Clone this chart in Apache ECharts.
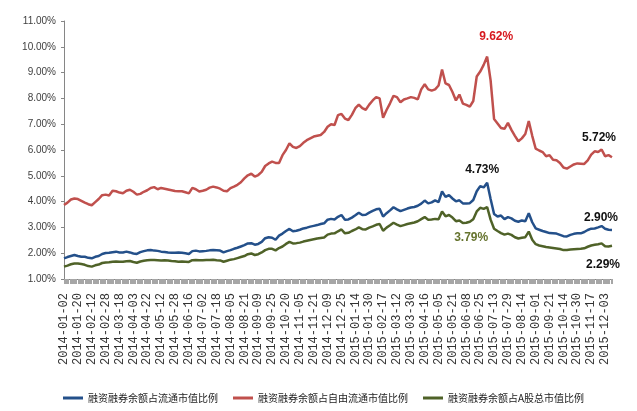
<!DOCTYPE html>
<html>
<head>
<meta charset="utf-8">
<title>融资融券余额占市值比例</title>
<script src="https://cdn.jsdelivr.net/npm/echarts@6.0.0/dist/echarts.min.js"></script>
<style>
  html, body { margin: 0; padding: 0; background: #fff; }
  #main { width: 637px; height: 411px; }
</style>
</head>
<body>
<div id="main"></div>
<script>
// 横轴标签, 每12个交易日一个; 数据每3个交易日取一点
var tickLabels = ['2014-01-02','2014-01-20','2014-02-12','2014-02-28','2014-03-18','2014-04-03','2014-04-22','2014-05-12','2014-05-28','2014-06-16',
	'2014-07-02','2014-07-18','2014-08-05','2014-08-21','2014-09-09','2014-09-25','2014-10-20','2014-11-05','2014-11-21','2014-12-09',
	'2014-12-25','2015-01-14','2015-01-30','2015-02-17','2015-03-12','2015-03-30','2015-04-16','2015-05-05','2015-05-21','2015-06-08',
	'2015-06-25','2015-07-13','2015-07-29','2015-08-14','2015-09-01','2015-09-21','2015-10-14','2015-10-30','2015-11-17','2015-12-03'];

var seriesNames = ['融资融券余额占流通市值比例', '融资融券余额占自由流通市值比例', '融资融券余额占A股总市值比例'];

// 融资融券余额占流通市值比例 (%)
var floatRatio = [1.80,1.85,1.89,1.93,1.89,1.86,1.86,1.82,1.80,1.86,
	1.89,1.97,2.01,2.02,2.04,2.06,2.03,2.03,2.06,2.03,
	1.99,1.97,2.04,2.08,2.11,2.12,2.10,2.09,2.06,2.05,
	2.03,2.02,2.02,2.03,2.02,2.00,1.97,2.08,2.10,2.07,
	2.08,2.09,2.11,2.12,2.11,2.10,2.03,2.08,2.12,2.17,
	2.21,2.26,2.31,2.38,2.39,2.33,2.36,2.44,2.58,2.62,
	2.60,2.52,2.68,2.76,2.86,2.94,2.85,2.87,2.91,2.96,
	2.99,3.03,3.06,3.09,3.13,3.16,3.30,3.33,3.31,3.41,
	3.48,3.30,3.31,3.38,3.47,3.57,3.48,3.49,3.57,3.64,
	3.70,3.72,3.42,3.55,3.66,3.78,3.70,3.63,3.68,3.73,
	3.77,3.79,3.84,3.92,4.04,3.93,3.97,4.05,3.98,4.40,
	4.18,4.25,4.12,4.01,4.05,3.93,3.93,3.94,4.06,4.40,
	4.60,4.55,4.73,4.10,3.52,3.42,3.46,3.32,3.40,3.35,
	3.26,3.22,3.27,3.24,3.55,3.20,2.96,2.91,2.86,2.82,
	2.78,2.77,2.76,2.71,2.66,2.65,2.71,2.75,2.77,2.77,
	2.82,2.90,2.95,2.96,3.00,3.05,2.95,2.91,2.90];

// 融资融券余额占自由流通市值比例 (%)
var freeFloatRatio = [3.87,3.96,4.08,4.12,4.10,4.03,3.96,3.90,3.86,3.98,
	4.10,4.25,4.27,4.24,4.42,4.40,4.35,4.32,4.42,4.46,
	4.38,4.27,4.30,4.38,4.44,4.53,4.56,4.48,4.53,4.50,
	4.47,4.44,4.41,4.40,4.40,4.36,4.32,4.53,4.48,4.39,
	4.42,4.46,4.54,4.58,4.55,4.50,4.42,4.40,4.52,4.58,
	4.65,4.75,4.90,5.02,5.08,4.97,5.03,5.15,5.38,5.48,
	5.55,5.50,5.50,5.80,6.00,6.26,6.12,6.08,6.15,6.28,
	6.38,6.45,6.52,6.55,6.58,6.70,6.90,7.00,6.97,7.35,
	7.40,7.22,7.16,7.36,7.62,7.76,7.62,7.56,7.76,7.92,
	8.05,8.00,7.25,7.55,7.81,8.10,8.05,7.85,7.96,8.00,
	8.05,8.02,7.96,8.35,8.55,8.35,8.30,8.35,8.50,9.12,
	8.58,8.52,8.25,7.92,8.15,7.80,7.75,7.68,7.90,8.85,
	9.04,9.30,9.62,8.70,7.20,7.03,6.85,6.82,7.05,6.78,
	6.55,6.34,6.45,6.62,7.12,6.55,6.05,5.98,5.92,5.76,
	5.80,5.62,5.60,5.50,5.32,5.28,5.36,5.44,5.48,5.47,
	5.46,5.60,5.82,5.95,5.92,6.02,5.76,5.80,5.72];

// 融资融券余额占A股总市值比例 (%)
var totalRatio = [1.48,1.52,1.57,1.60,1.60,1.58,1.55,1.50,1.48,1.53,
	1.56,1.62,1.64,1.65,1.67,1.68,1.67,1.67,1.69,1.70,
	1.66,1.63,1.68,1.71,1.73,1.74,1.74,1.73,1.72,1.73,
	1.72,1.70,1.69,1.67,1.68,1.67,1.66,1.73,1.74,1.73,
	1.73,1.74,1.74,1.75,1.73,1.72,1.67,1.71,1.75,1.77,
	1.81,1.85,1.89,1.96,1.99,1.93,1.96,2.03,2.12,2.17,
	2.17,2.11,2.20,2.26,2.36,2.44,2.38,2.39,2.41,2.45,
	2.48,2.51,2.54,2.57,2.59,2.61,2.72,2.76,2.77,2.85,
	2.92,2.77,2.79,2.86,2.92,3.00,2.93,2.92,2.99,3.04,
	3.10,3.13,2.87,2.99,3.08,3.18,3.11,3.05,3.09,3.13,
	3.16,3.19,3.24,3.32,3.40,3.30,3.31,3.33,3.32,3.62,
	3.43,3.48,3.38,3.24,3.27,3.17,3.18,3.22,3.32,3.62,
	3.76,3.72,3.79,3.30,2.95,2.86,2.78,2.72,2.76,2.71,
	2.62,2.57,2.60,2.62,2.84,2.52,2.35,2.30,2.27,2.24,
	2.22,2.20,2.18,2.16,2.12,2.12,2.14,2.15,2.16,2.17,
	2.19,2.25,2.30,2.33,2.35,2.38,2.27,2.26,2.29];

var colors = ['#24508a', '#c0504d', '#4f6228'];

// 类目: 每个标签后面补3个空位 (最后补2个)
var categories = [];
tickLabels.forEach(function (d, i) {
	categories.push(d);
	var pad = i < tickLabels.length - 1 ? 3 : 2;
	for (var j = 0; j < pad; j++) {
		categories.push('');
	}
});

var sans = "'Liberation Sans', Arial, sans-serif";

function pct(v) {
	return v.toFixed(2) + '%';
}

// 峰值和期末值的标注
function marks(data, peakColor, peakOffset, endColor, endOffset) {
	var peak = Math.max.apply(null, data);
	var pi = data.indexOf(peak);
	var li = data.length - 1;
	var items = [{
		coord: [pi, peak], value: peak,
		label: { color: peakColor, offset: peakOffset }
	}, {
		coord: [li, data[li]], value: data[li],
		label: { color: endColor, offset: endOffset }
	}];
	return {
		symbol: 'circle',
		symbolSize: 1,
		itemStyle: { color: 'transparent' },
		label: {
			show: true,
			position: 'inside',
			fontFamily: sans,
			fontWeight: 'bold',
			fontSize: 12,
			formatter: function (p) { return pct(p.value); }
		},
		data: items
	};
}

function makeLine(name, data, color, mp) {
	return {
		name: name,
		type: 'line',
		data: data,
		symbol: 'none',
		lineStyle: { width: 2.5, color: color },
		itemStyle: { color: color },
		markPoint: mp,
		animation: false
	};
}

var chart = echarts.init(document.getElementById('main'));
var option = {
	backgroundColor: '#fff',
	animation: false,
	grid: { left: 64, right: 25, top: 21, bottom: 132 },
	legend: {
		left: 58,
		top: 388,
		icon: 'rect',
		itemWidth: 20,
		itemHeight: 3,
		itemGap: 15,
		textStyle: { fontFamily: "'Noto Sans CJK SC', sans-serif", fontSize: 10, color: '#222' },
		data: seriesNames
	},
	xAxis: [{
		type: 'category',
		boundaryGap: false,
		data: categories,
		axisLine: { lineStyle: { color: '#868686', width: 1 } },
		axisTick: { show: false },
		axisLabel: {
			interval: 3,
			rotate: 90,
			margin: 14,
			fontFamily: "'Liberation Mono', 'DejaVu Sans Mono', monospace",
			fontSize: 12,
			color: '#333'
		},
		splitLine: { show: false }
	}, {
		// 每个交易日一个小刻度
		type: 'value',
		position: 'bottom',
		min: 0,
		max: (categories.length - 1) * 3,
		interval: 1,
		axisLine: { show: false },
		axisLabel: { show: false },
		axisTick: { length: 5, lineStyle: { color: '#a6a6a6', width: 1 } },
		splitLine: { show: false }
	}],
	yAxis: {
		type: 'value',
		min: 1,
		max: 11,
		interval: 1,
		axisLine: { show: true, lineStyle: { color: '#868686', width: 1 } },
		axisTick: { show: true, length: 3, lineStyle: { color: '#868686' } },
		axisLabel: {
			margin: 8,
			fontFamily: sans,
			fontSize: 10,
			color: '#404040',
			formatter: function (v) { return pct(v); }
		},
		splitLine: { show: false }
	},
	series: [
		makeLine(seriesNames[0], floatRatio, colors[0], marks(floatRatio, '#111', [-5, -13], '#111', [-11, -12])),
		makeLine(seriesNames[1], freeFloatRatio, colors[1], marks(freeFloatRatio, '#d7191f', [9, -20], '#111', [-13, -20])),
		makeLine(seriesNames[2], totalRatio, colors[2], marks(totalRatio, '#66742f', [-16, 31], '#111', [-9, 19]))
	]
};
chart.setOption(option);
</script>
</body>
</html>
